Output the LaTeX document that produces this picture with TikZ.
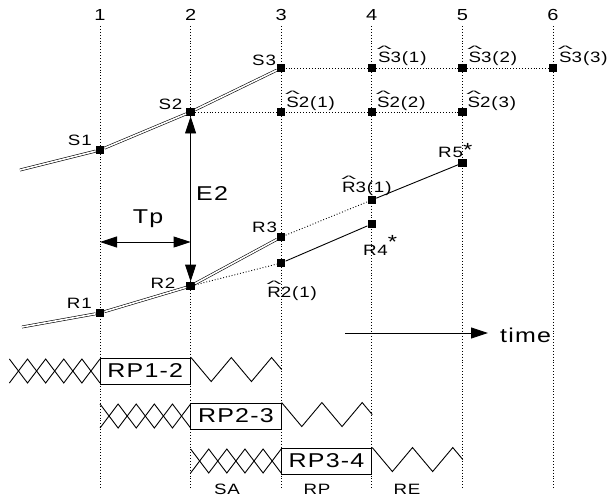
\documentclass[tikz,border=0pt]{standalone}
\usepackage{graphicx}
\usepackage{fontspec}
\newfontfamily\plotfont[FakeStretch=1.25,LetterSpace=6]{Liberation Sans}
\usetikzlibrary{arrows.meta,positioning,calc}
\newcommand\est[1]{\ooalign{#1\cr\hidewidth\raisebox{0.64em}{\scalebox{1.7}[0.62]{\textasciicircum}}\hidewidth\cr}}
\newcommand\plotstar[1]{\raisebox{#1}{\fontsize{19}{19}\selectfont *}}

\begin{document}
\begin{tikzpicture}[
  x=1pt, y=-1pt,
  >={Triangle[length=17pt,width=11pt]},
  pt/.style={rectangle, fill=black, minimum size=8.5pt, inner sep=0pt},
  lbl/.style={font=\plotfont\fontsize{15}{18}\selectfont, inner sep=0pt},
  num/.style={font=\plotfont\fontsize{16}{19}\selectfont, inner sep=0pt, anchor=base},
  big/.style={font=\plotfont\fontsize{20}{24}\selectfont, inner sep=0pt},
  rpbox/.style={rectangle, draw, line width=0.9pt, minimum width=90.6pt, minimum height=26pt,
                inner sep=0pt, font=\plotfont\fontsize{20}{24}\selectfont},
  grid/.style={dotted, line width=0.9pt},
  track/.style={double, line width=0.6pt, double distance=1.6pt},
  link/.style={line width=0.9pt},
  wave/.style={line width=0.9pt, line join=miter},
]
\useasboundingbox[fill=white] (0,0) rectangle (611,499);

\foreach \i in {1,...,6} {
  \node[num] (n\i) at ({100+90.6*(\i-1)},20) {\i};
  \coordinate (t\i) at ({100+90.6*(\i-1)},26);
  \coordinate (b\i) at ({100+90.6*(\i-1)},488);
  \draw[grid] (t\i) -- (b\i);
}

\coordinate (s0) at (20,170);
\node[pt] (S1) at (100,150) {};
\node[pt] (S2) at (190.6,112) {};
\node[pt] (S3) at (281.2,68) {};
\node[pt] (hS31) at (371.8,68) {};
\node[pt] (hS32) at (462.4,68) {};
\node[pt] (hS33) at (553,68) {};
\node[pt] (hS21) at (281.2,112) {};
\node[pt] (hS22) at (371.8,112) {};
\node[pt] (hS23) at (462.4,112) {};

\coordinate (r0) at (22,327);
\node[pt] (R1) at (100,313) {};
\node[pt] (R2) at (190.6,286) {};
\node[pt] (R3) at (281.2,237) {};
\node[pt] (hR21) at (281.2,263) {};
\node[pt] (hR31) at (371.8,200) {};
\node[pt] (R4) at (371.8,224) {};
\node[pt] (R5) at (462.4,163) {};

\draw[track] (s0) -- (S1) -- (S2) -- (S3);
\draw[grid] (S3) -- (hS31) -- (hS32) -- (hS33);
\draw[grid] (S2) -- (hS21) -- (hS22) -- (hS23);
\draw[track] (r0) -- (R1) -- (R2) -- (R3);
\draw[grid] (R2) -- (hR21);
\draw[grid] (R3) -- (hR31);
\draw[link] (hR21) -- (R4);
\draw[link] (hR31) -- (R5);

\node[lbl, anchor=base east] (tS1) at ($(S1)+(-8,-5)$) {S1};
\node[lbl, anchor=base east] (tS2) at ($(S2)+(-8,-3)$) {S2};
\node[lbl, anchor=base east] (tS3) at ($(S3)+(-5,-3)$) {S3};
\foreach \k in {1,2,3} {
  \node[lbl, anchor=base west] (tS3\k) at ($(hS3\k)+(6,-6)$) {\est{S}3(\k)};
  \node[lbl, anchor=base west] (tS2\k) at ($(hS2\k)+(5,-5)$) {\est{S}2(\k)};
}
\node[lbl, anchor=base east] (tR1) at ($(R1)+(-8,-5)$) {R1};
\node[lbl, anchor=base east] (tR2) at ($(R2)+(-15,2)$) {R2};
\node[lbl, anchor=base east] (tR3) at ($(R3)+(-4,-5)$) {R3};
\node[lbl, anchor=base west] (tR21) at ($(hR21)+(-14,34)$) {\est{R}2(1)};
\node[lbl, anchor=base west] (tR31) at ($(hR31)+(-30,-8)$) {\est{R}3(1)};
\node[lbl, anchor=base west] (tR4) at ($(R4)+(-9,31)$) {R4\plotstar{0.45em}};
\node[lbl, anchor=base west] (tR5) at ($(R5)+(-24.4,-6)$) {R5\plotstar{0.05em}};

\draw[link,<->] (S2) -- (R2);
\node[big, anchor=base west] (e2) at (196,200) {E2};
\coordinate (tpL) at (100,242);
\coordinate (tpR) at (190.6,242);
\draw[link,<->] (tpL) -- (tpR);
\node[big, anchor=base] (tp) at (148,223) {Tp};

\coordinate (ts) at (345,333);
\coordinate (te) at (488,333);
\draw[link,->] (ts) -- (te);
\node[big, anchor=base west] (time) at (500,342) {time};

\foreach \k/\m/\yc in {1/2/371, 2/3/416, 3/4/461} {
  \pgfmathsetmacro\xa{9.4+90.6*(\k-1)}
  \draw[wave] (\xa,\yc-12) -- ++(18.12,24) -- ++(18.12,-24) -- ++(18.12,24) -- ++(18.12,-24) -- ++(18.12,24);
  \draw[wave] (\xa,\yc+12) -- ++(18.12,-24) -- ++(18.12,24) -- ++(18.12,-24) -- ++(18.12,24) -- ++(18.12,-24);
  \node[rpbox] (rp\k) at ({\xa+135.9},\yc) {RP\k-\m};
  \draw[wave] (rp\k.north east) -- ++(20.13,24) -- ++(20.13,-24) -- ++(20.13,24) -- ++(20.13,-24) -- ++(10.07,12);
}

\node[lbl, anchor=base] (sa) at (227,494) {SA};
\node[lbl, anchor=base] (rp) at (317,494) {RP};
\node[lbl, anchor=base] (re) at (407,494) {RE};

\end{tikzpicture}
\end{document}
